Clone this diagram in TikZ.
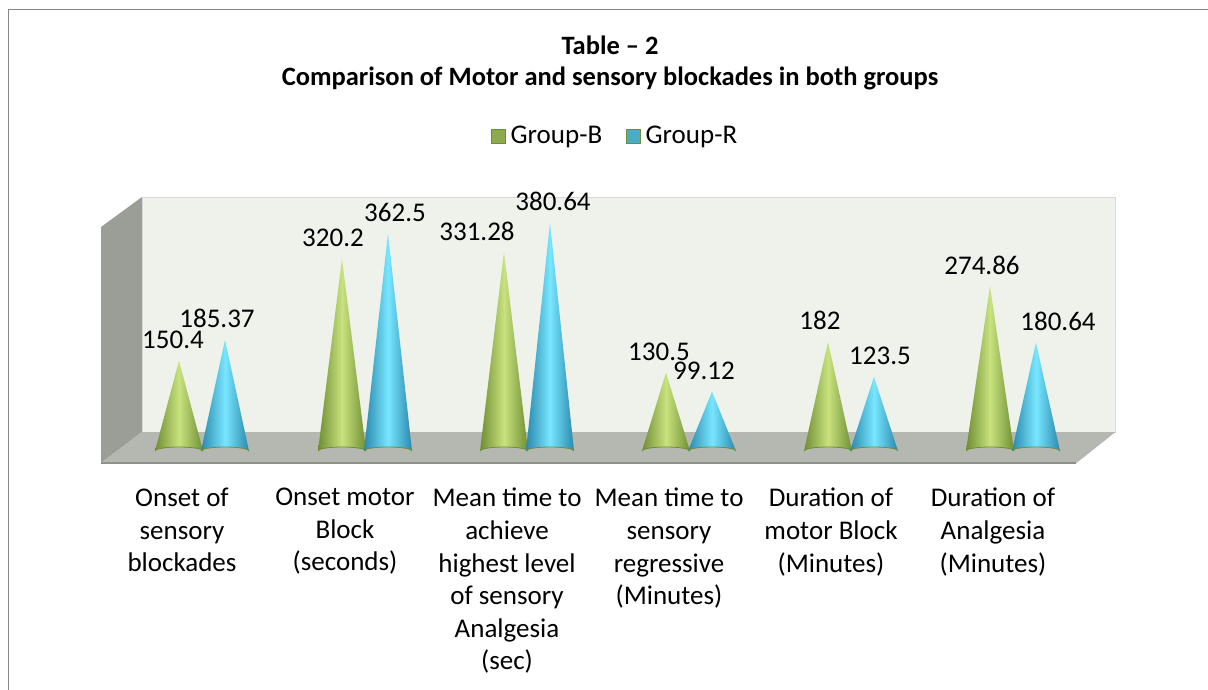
\documentclass[tikz,border=0pt]{standalone}
\usepackage{fontspec}
\setmainfont{Carlito}
\usetikzlibrary{positioning}

\definecolor{framegray}{HTML}{878787}
\definecolor{backwall}{HTML}{EFF2EB}
\definecolor{sidewall}{HTML}{9B9E97}
\definecolor{floorgray}{HTML}{B5B8B1}
\definecolor{flooredge}{HTML}{8E918B}
\definecolor{gdark}{HTML}{6F8E33}
\definecolor{glight}{HTML}{C9E27F}
\definecolor{rdark}{HTML}{2A88AC}
\definecolor{rlight}{HTML}{78E6FF}
\definecolor{gkey}{HTML}{8DAA4E}
\definecolor{rkey}{HTML}{4BACC6}

\tikzset{
  title/.style   = {font=\fontsize{26.5}{30}\selectfont\bfseries, inner sep=0pt},
  catlabel/.style= {font=\fontsize{27}{32.6}\selectfont, align=center, inner sep=0pt, anchor=north},
  val/.style     = {font=\fontsize{27}{30}\selectfont, inner sep=0pt},
  gcone/.style   = {left color=gdark, right color=gdark, middle color=glight},
  rcone/.style   = {left color=rdark, right color=rdark, middle color=rlight},
  keybox/.style  = {minimum size=14pt, inner sep=0pt, draw=gdark, line width=1pt}
}

\begin{document}
\begin{tikzpicture}[x=1pt, y=-1pt]
\clip (0,0) rectangle (1208,690);
\draw[framegray, line width=1.5pt] (8.5,700) -- (8.5,9.5) -- (1220,9.5);

% titles
\node[title] (t1) at (610,45) {Table -- 2};
\node[title] (t2) at (610,78) {Comparison of Motor and sensory blockades in both groups};

% legend
\node[keybox, fill=gkey] (kb) at (498,137) {};
\node[val, right=5pt of kb] (kbt) {Group-B};
\node[keybox, fill=rkey] (kr) at (633,137) {};
\node[val, right=5pt of kr] (krt) {Group-R};

% walls and floor
\fill[sidewall] (101,227) -- (142,197) -- (142,432) -- (101,463) -- cycle;
\filldraw[fill=backwall, draw=black!15] (142,197) rectangle (1115,432);
\fill[floorgray] (101,463) -- (142,432) -- (1115,432) -- (1076,463) -- cycle;
\draw[flooredge, line width=2.5pt] (101,463) -- (1076,463);
\draw[black!30] (1076,463) -- (1115,432);

% cones and labels
\foreach \cx/\b/\bdx/\r/\rdx/\txt [count=\i] in {
  202/150.4/-6/185.37/-8/{Onset of\\sensory\\blockades},
  365/320.2/-9/362.5/7/{Onset motor\\Block\\(seconds)},
  527/331.28/-27/380.64/3/{Mean time to\\achieve\\highest level\\of sensory\\Analgesia\\(sec)},
  689/130.5/-7/99.12/-8/{Mean time to\\sensory\\regressive\\(Minutes)},
  851/182/-8/123.5/6/{Duration of\\motor Block\\(Minutes)},
  1013/274.86/-8/180.64/22/{Duration of\\Analgesia\\(Minutes)}}
{
  \pgfmathsetmacro\hb{451-0.6*\b}
  \pgfmathsetmacro\hr{451-0.6*\r}
  \coordinate (b\i) at (\cx-23,\hb);
  \coordinate (r\i) at (\cx+23,\hr);
  \shade[gcone] (\cx-47,451) -- (b\i) -- (\cx+1,451) arc (0:-180:24 and 4) -- cycle;
  \draw[gdark, line width=0.8pt] (\cx+1,451) arc (0:-180:24 and 4);
  \shade[rcone] (\cx-1,451) -- (r\i) -- (\cx+47,451) arc (0:-180:24 and 4) -- cycle;
  \draw[gdark, line width=0.8pt] (\cx+47,451) arc (0:-180:24 and 4);
  \node[val] (vb\i) at ([xshift=\bdx, yshift=21]b\i) {\b};
  \node[val] (vr\i) at ([xshift=\rdx, yshift=21]r\i) {\r};
  \node[catlabel] (c\i) at (\cx-20,488) {\txt};
}
\end{tikzpicture}
\end{document}
